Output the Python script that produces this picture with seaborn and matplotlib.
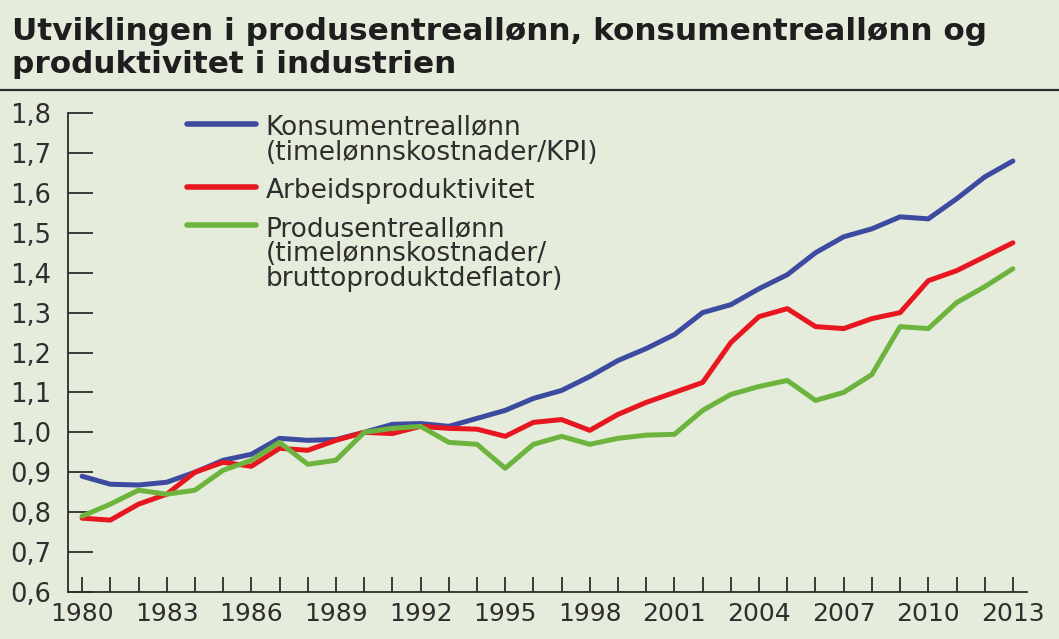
import matplotlib
matplotlib.use("Agg")
import matplotlib.pyplot as plt
from matplotlib.lines import Line2D
from matplotlib.ticker import FuncFormatter
import pandas as pd
import seaborn as sns

years = list(range(1980, 2014))

konsument = [0.89, 0.87, 0.868, 0.875, 0.90, 0.93, 0.945, 0.985, 0.98, 0.982,
             1.00, 1.02, 1.022, 1.015, 1.035, 1.055, 1.085, 1.105, 1.14, 1.18,
             1.21, 1.245, 1.30, 1.32, 1.36, 1.395, 1.45, 1.49, 1.51, 1.54,
             1.535, 1.585, 1.64, 1.68]
arbeid = [0.785, 0.78, 0.82, 0.845, 0.90, 0.925, 0.915, 0.96, 0.955, 0.98,
          1.00, 0.997, 1.015, 1.01, 1.008, 0.99, 1.025, 1.032, 1.005, 1.045,
          1.075, 1.10, 1.125, 1.225, 1.29, 1.31, 1.265, 1.26, 1.285, 1.30,
          1.38, 1.405, 1.44, 1.475]
produsent = [0.79, 0.82, 0.855, 0.845, 0.855, 0.905, 0.93, 0.975, 0.92, 0.93,
             1.00, 1.01, 1.015, 0.975, 0.97, 0.91, 0.97, 0.99, 0.97, 0.985,
             0.993, 0.995, 1.055, 1.095, 1.115, 1.13, 1.08, 1.10, 1.145, 1.265,
             1.26, 1.325, 1.365, 1.41]

labels = ["Konsumentreallønn\n(timelønnskostnader/KPI)",
          "Arbeidsproduktivitet",
          "Produsentreallønn\n(timelønnskostnader/\nbruttoproduktdeflator)"]
colors = ["#3c4ba0", "#e8161e", "#6db43e"]
title = "Utviklingen i produsentreallønn, konsumentreallønn og\nproduktivitet i industrien"

bg = "#e6ecdc"
ink = "#2e2e2e"

df = pd.DataFrame({
    "year": years * 3,
    "value": konsument + arbeid + produsent,
    "serie": [labels[0]] * len(years) + [labels[1]] * len(years) + [labels[2]] * len(years),
})

sns.set_theme(style="ticks")
plt.rcParams["font.family"] = ["DejaVu Sans"]

fig = plt.figure(figsize=(10.59, 6.39), dpi=100, facecolor=bg)
ax = fig.add_axes([0.0642, 0.0736, 0.9056, 0.7494], facecolor=bg)

sns.lineplot(data=df, x="year", y="value", hue="serie", hue_order=labels,
             palette=colors, linewidth=3.6, ax=ax, legend=False)

ax.set_xlim(1979.5, 2013.5)
ax.set_ylim(0.6, 1.8)
ax.set_xticks(years)
ax.set_xticklabels([str(y) if (y - 1980) % 3 == 0 else "" for y in years])
ax.set_yticks([0.6 + 0.1 * i for i in range(13)])
ax.yaxis.set_major_formatter(FuncFormatter(lambda v, p: f"{v:.1f}".replace(".", ",")))
ax.tick_params(axis="y", direction="in", length=18, width=1.3, pad=12,
               labelsize=18.5, colors=ink)
ax.tick_params(axis="x", direction="in", length=11, width=1.3, pad=7,
               labelsize=18, colors=ink)
ax.set_xlabel("")
ax.set_ylabel("")
for s in ["top", "right"]:
    ax.spines[s].set_visible(False)
for s in ["left", "bottom"]:
    ax.spines[s].set_color(ink)
    ax.spines[s].set_linewidth(1.3)

handles = [Line2D([], [], color=c, linewidth=4, solid_capstyle="round") for c in colors]
leg = ax.legend(handles, labels, loc="upper left", bbox_to_anchor=(0.124, 0.997),
                frameon=False, fontsize=19, handlelength=2.6, handletextpad=0.38,
                labelspacing=0.45, borderpad=0, borderaxespad=0, handleheight=0.7)
for t in leg.get_texts():
    t.set_color(ink)
    t.set_linespacing(0.97)
for item in leg._legend_handle_box.get_children()[0].get_children():
    item.align = "top"

fig.text(12 / 1059, 1 - 17 / 639, title, ha="left", va="top", fontsize=22.4,
         fontweight="bold", color="#1e1e1e", linespacing=1.18)
fig.add_artist(Line2D([0, 1], [1 - 90 / 639, 1 - 90 / 639], transform=fig.transFigure,
                      color=ink, linewidth=1.6))

fig.savefig("out.png", dpi=100, facecolor=bg)
